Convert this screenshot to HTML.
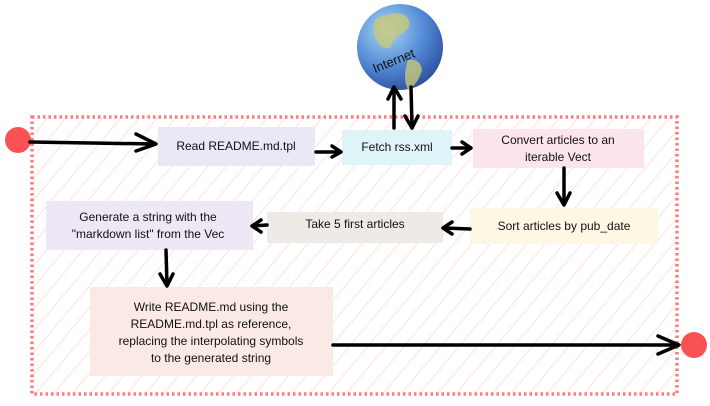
<!DOCTYPE html>
<html><head><meta charset="utf-8"><style>
html,body{margin:0;padding:0;background:#fff;width:710px;height:406px;overflow:hidden}
text{font-family:"Liberation Sans",sans-serif;font-size:12px;fill:#111}
</style></head><body>
<svg width="710" height="406" viewBox="0 0 710 406" xmlns="http://www.w3.org/2000/svg">
<defs>
<pattern id="h" width="14" height="14" patternUnits="userSpaceOnUse" patternTransform="rotate(40)">
<line x1="0" y1="0" x2="0" y2="14" stroke="#ffd0d0" stroke-width="1.3"/>
</pattern>
<radialGradient id="g" cx="0.35" cy="0.3" r="0.75">
<stop offset="0" stop-color="#a8d8f4"/><stop offset="0.6" stop-color="#5088d4"/><stop offset="1" stop-color="#2f50a0"/>
</radialGradient>
</defs>
<rect x="32" y="117" width="645" height="277" fill="url(#h)" stroke="#ff7b7b" stroke-width="3.5" stroke-dasharray="2.5 3"/>
<circle cx="400" cy="47" r="43" fill="url(#g)"/>
<path d="M375 20 q15 -10 30 -5 q10 10 -2 18 q-10 4 -12 14 q-8 4 -14 -6 q-6 -10 -2 -21z" fill="#c8c878" opacity="0.8"/>
<path d="M408 60 q12 -2 14 10 q-4 14 -14 20 q-6 -12 0 -30z" fill="#c8c878" opacity="0.8"/>
<text x="368" y="62" transform="rotate(-22 400 50)" style="font-size:13px">Internet</text>
<rect x="158" y="127" width="157" height="39" fill="#e8e8f6"/>
<text x="236" y="150" text-anchor="middle">Read README.md.tpl</text>
<rect x="342" y="130" width="110" height="35" fill="#dff4f8"/>
<text x="397" y="151" text-anchor="middle">Fetch rss.xml</text>
<rect x="473" y="129" width="171" height="39" fill="#fbe4ec"/>
<text x="558" y="144" text-anchor="middle">Convert articles to an</text>
<text x="558" y="161" text-anchor="middle">iterable Vect</text>
<rect x="470" y="208" width="188" height="36" fill="#fdf7e3"/>
<text x="564" y="230" text-anchor="middle">Sort articles by pub_date</text>
<rect x="267" y="212" width="176" height="31" fill="#eeeae6"/>
<text x="355" y="228" text-anchor="middle">Take 5 first articles</text>
<rect x="46" y="201" width="207" height="49" fill="#ede7f6"/>
<text x="148" y="221" text-anchor="middle">Generate a string with the</text>
<text x="148" y="238" text-anchor="middle">"markdown list" from the Vec</text>
<rect x="90" y="287" width="243" height="89" fill="#fbe9e5"/>
<text x="211" y="311" text-anchor="middle">Write README.md using the</text>
<text x="211" y="328" text-anchor="middle">README.md.tpl as reference,</text>
<text x="211" y="345" text-anchor="middle">replacing the interpolating symbols</text>
<text x="211" y="362" text-anchor="middle">to the generated string</text>
<circle cx="18" cy="140" r="13" fill="#fa5252"/>
<circle cx="694" cy="345" r="13" fill="#fa5252"/>
<g stroke="#000" stroke-width="3.5" fill="none" stroke-linecap="round" stroke-linejoin="round">
<path d="M30 142 L155 144"/><path d="M136 134 L156 144 L136 151"/>
<path d="M316 152 L340 152"/><path d="M332 146 L341 152 L332 157"/>
<path d="M452 148 L470 148"/><path d="M462 142 L471 148 L462 154"/>
<path d="M564 168 L564 202"/><path d="M557 193 L564 205 L570 193"/>
<path d="M470 229 L444 228"/><path d="M452 222 L443 228 L452 234"/>
<path d="M267 225 L253 226"/><path d="M261 220 L252 226 L261 232"/>
<path d="M166 250 L167 284"/><path d="M160 274 L167 286 L173 274"/>
<path d="M333 345 L678 345"/><path d="M658 336 L679 345 L658 354"/>
<path d="M394 128 L394 88"/><path d="M388 99 L394 87 L401 99"/>
<path d="M411 87 L412 128"/><path d="M405 116 L412 128 L418 116"/>
</g>
</svg>
</body></html>
